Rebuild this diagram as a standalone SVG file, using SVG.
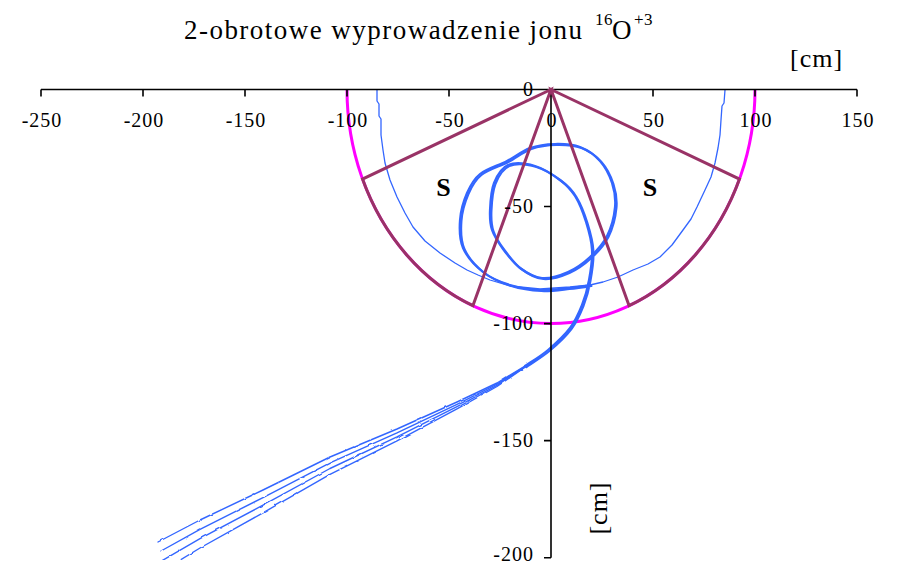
<svg xmlns="http://www.w3.org/2000/svg" width="897" height="565" viewBox="0 0 897 565">
<style>
 .t{font-family:"Liberation Serif","Times New Roman",serif;fill:#000}
 .tick{font-size:20px;letter-spacing:1px}
 .ax{stroke:#000;stroke-width:1.6;fill:none}
 .traj{fill:none;stroke:#3366FF;stroke-linejoin:round;stroke-linecap:round}
 .thick{stroke-width:2.2}
 .thin{stroke-width:1.3}
 .exit{stroke-width:1.4}
 .sec{fill:none;stroke:#993366;stroke-width:3;stroke-linejoin:miter}
 .mag{fill:none;stroke:#FF00FF;stroke-width:3}
</style>
<defs>
 <clipPath id="plot"><rect x="0" y="0" width="897" height="560"/></clipPath>
 <filter id="wob" x="-5%" y="-5%" width="110%" height="110%">
  <feTurbulence type="fractalNoise" baseFrequency="0.12" numOctaves="1" seed="4" result="n"/>
  <feDisplacementMap in="SourceGraphic" in2="n" scale="2.5" xChannelSelector="R" yChannelSelector="G"/>
 </filter>
 <path id="loopPath" d="M590,285 C582,286.5 573,287.8 568,288 C563.33,288.33 549.67,290.5 540,290 C530.33,289.5 519.5,288 510,285 C500.5,282 490.83,278.17 483,272 C475.17,265.83 466.83,256.67 463,248 C459.17,239.33 459.33,229.17 460,220 C460.67,210.83 463.67,200.67 467,193 C470.33,185.33 473.33,179.33 480,174 C486.67,168.67 498.67,165.33 507,161 C515.33,156.67 522,150.83 530,148 C538,145.17 546.67,144.17 555,144 C563.33,143.83 572.5,144.17 580,147 C587.5,149.83 594.67,155 600,161 C605.33,167 609.5,175.33 612,183 C614.5,190.67 615.83,198.17 615,207 C614.17,215.83 611.17,227.67 607,236 C602.83,244.33 596.5,251 590,257 C583.5,263 576,268.5 568,272 C560,275.5 550,278.67 542,278 C534,277.33 526.5,272.83 520,268 C513.5,263.17 507.67,255.33 503,249 C498.33,242.67 494.17,236.5 492,230 C489.83,223.5 489.67,217.83 490,210 C490.33,202.17 491,190.5 494,183 C497,175.5 501.17,167.83 508,165 C514.83,162.17 526.33,163.5 535,166 C543.67,168.5 553.33,175 560,180 C566.67,185 570.67,189 575,196 C579.33,203 583.17,213 586,222 C588.83,231 591.5,240.33 592,250 C592.5,259.67 590.67,270.83 589,280 C587.33,289.17 585.17,297 582,305 C578.83,313 575.67,320.5 570,328 C564.33,335.5 555.5,343.67 548,350 C540.5,356.33 528.83,363.33 525,366"/>
</defs>
<rect width="897" height="565" fill="#fff"/>

<g id="title">
 <text class="t" x="184" y="39" font-size="27" textLength="398" lengthAdjust="spacing">2-obrotowe wyprowadzenie jonu</text>
 <text class="t" x="595" y="25" font-size="17" letter-spacing="0.5">16</text>
 <text class="t" x="612" y="39" font-size="27">O</text>
 <text class="t" x="634" y="25" font-size="17" letter-spacing="0.5">+3</text>
</g>

<g id="magnet-outline">
 <path class="mag" d="M347,89.5 A204,234 0 0 0 755,89.5"/>
</g>

<g id="trajectories" clip-path="url(#plot)">
 <path id="orbit-85" class="traj thin" d="M377,90 L377,101 L379,104 L379,116 L381,119 L381,135 L383,150 L385,163 L390,180 L397,197 L405,213 L413,227 L425,241 L440,253 L455,263 L467,270 L478,275 L490,280 L510,286 L540,289 L570,287 L590,285 L603,282 L618,277 L633,270 L648,264 L660,257 L672,245 L683,230 L691,219 L697,207 L705,190 L711,177 L715,163 L718,148 L720,135 L721,120 L722,106 L724,103 L725,90"/>
 <g id="loops">
  <use href="#loopPath" class="traj thick"/>
  <use href="#loopPath" class="traj thick" transform="translate(1.4,1)"/>
 </g>
 <g id="exit-beams" filter="url(#wob)">
  <path class="traj exit" d="M540,357 L525,366 L497,383 L457,402 L397,429 L330,457 L263,490 L200,520 L158,542"/>
  <path class="traj exit" d="M540,357.2 L525,366.4 L497,384.2 L457,404.3 L397,432.9 L330,462.8 L263,497.6 L200,529.4 L161,551"/>
  <path class="traj exit" d="M540,357.4 L525,366.8 L497,385.4 L457,406.6 L397,436.9 L330,468.5 L263,505.2 L200,538.7 L158,563"/>
  <path class="traj exit" d="M540,357.6 L525,367.2 L497,386.5 L457,408.8 L397,440.8 L330,474.3 L263,512.8 L200,548 L158,573.5"/>
 </g>
</g>

<g id="axes">
 <path class="ax" d="M41,89.5 H857 M41,89.5 v7 M143,89.5 v7 M245,89.5 v7 M347,89.5 v7 M449,89.5 v7 M551,89.5 v7 M653,89.5 v7 M755,89.5 v7 M857,89.5 v7"/>
 <path class="ax" d="M551,89.5 V557.7 M544,206.5 H551 M544,323.6 H551 M544,440.6 H551 M544,557.7 H551"/>
</g>

<g id="sector-left">
 <path class="sec" d="M551,89.5 L362.5,179.1 A204,234 0 0 0 472.9,305.7 Z"/>
 <text class="t" x="443.5" y="196" font-size="26" font-weight="bold" text-anchor="middle">S</text>
</g>
<g id="sector-right">
 <path class="sec" d="M551,89.5 L739.5,179.1 A204,234 0 0 1 629.1,305.7 Z"/>
 <text class="t" x="650" y="196" font-size="26" font-weight="bold" text-anchor="middle">S</text>
</g>

<g id="x-labels" class="t tick" text-anchor="middle">
 <text x="42" y="127">-250</text>
 <text x="144" y="127">-200</text>
 <text x="246" y="127">-150</text>
 <text x="348" y="127">-100</text>
 <text x="450" y="127">-50</text>
 <text x="552" y="127">0</text>
 <text x="654" y="127">50</text>
 <text x="756" y="127">100</text>
 <text x="858" y="127">150</text>
</g>
<g id="y-labels" class="t tick" text-anchor="end">
 <text x="534" y="96">0</text>
 <text x="534" y="213">-50</text>
 <text x="534" y="330">-100</text>
 <text x="534" y="447">-150</text>
 <text x="534" y="561">-200</text>
</g>

<g id="units">
 <text class="t" x="790" y="67" font-size="26" letter-spacing="1">[cm]</text>
 <text class="t" font-size="26" letter-spacing="1" text-anchor="middle" transform="translate(607,508) rotate(-90)">[cm]</text>
</g>
</svg>
